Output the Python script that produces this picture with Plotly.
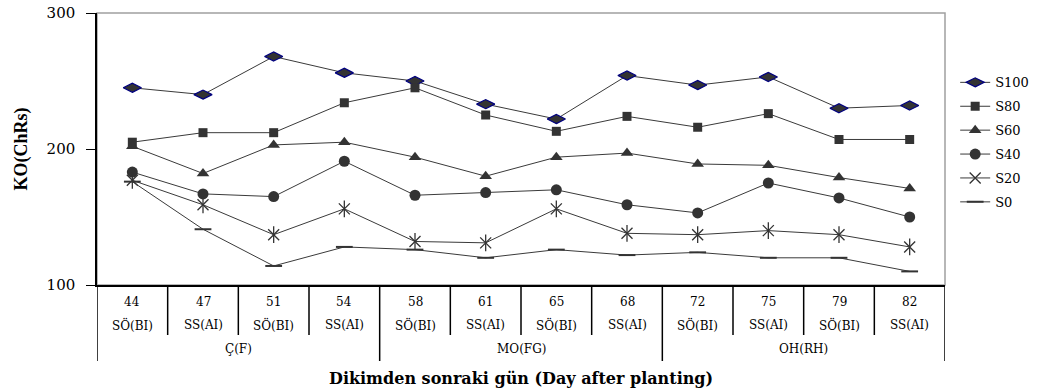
import plotly.graph_objects as go

# Days after planting, irrigation timing and growth stage for each sampling
days = ["44", "47", "51", "54", "58", "61", "65", "68", "72", "75", "79", "82"]
timing = ["SÖ(BI)", "SS(AI)"] * 6
stages = ["Ç(F)", "MO(FG)", "OH(RH)"]

# KO (ChRs) readings per irrigation level
s100 = [245, 240, 268, 256, 250, 233, 222, 254, 247, 253, 230, 232]
s80 = [205, 212, 212, 234, 245, 225, 213, 224, 216, 226, 207, 207]
s60 = [202, 182, 203, 205, 194, 180, 194, 197, 189, 188, 179, 171]
s40 = [183, 167, 165, 191, 166, 168, 170, 159, 153, 175, 164, 150]
s20 = [177, 159, 137, 156, 132, 131, 156, 138, 137, 140, 137, 128]
s0 = [176, 141, 114, 128, 126, 120, 126, 122, 124, 120, 120, 110]

series_names = ["S100", "S80", "S60", "S40", "S20", "S0"]
series_vals = [s100, s80, s60, s40, s20, s0]

# plot-area geometry in pixels (used to place the category rows under the axis)
TOP, BOTTOM = 13, 285
H = BOTTOM - TOP


def py(p):
    return (BOTTOM - p) / H


LINE_COLOR = "#3a3a3a"
FILL = "#333333"
TXT = "DejaVu Serif"

marker_styles = {
    "S100": dict(symbol="diamond-wide", size=13, color=FILL, line=dict(color="#000080", width=1.2)),
    "S80": dict(symbol="square", size=9, color=FILL, line=dict(width=0)),
    "S60": dict(symbol="triangle-up", size=11, color=FILL, line=dict(width=0)),
    "S40": dict(symbol="circle", size=11, color=FILL, line=dict(width=0)),
    "S20": dict(symbol="x-thin-open", size=11, color=FILL, line=dict(color=FILL, width=1.3)),
    "S0": dict(symbol="line-ew-open", size=12, color=FILL, line=dict(color=FILL, width=2)),
}

xs = list(range(len(days)))
fig = go.Figure()
for i, (name, vals) in enumerate(zip(series_names, series_vals)):
    fig.add_trace(go.Scatter(
        x=xs, y=vals, name=name, mode="lines+markers",
        line=dict(color=LINE_COLOR, width=1),
        marker=marker_styles[name],
        legendgroup=name,
    ))
    if name == "S20":
        # vertical arm of the star marker
        fig.add_trace(go.Scatter(
            x=xs, y=vals, mode="markers", showlegend=False, hoverinfo="skip",
            marker=dict(symbol="line-ns-open", size=12, color=FILL,
                        line=dict(color=FILL, width=1.3)),
            legendgroup=name,
        ))

shapes = []
# gray frame on top and right of the plot area
shapes.append(dict(type="rect", xref="paper", yref="paper", x0=0, x1=1, y0=0, y1=1,
                   line=dict(color="#a0a0a0", width=1.5), layer="below"))
# category dividers below the axis
for k in range(len(days) + 1):
    xpos = k - 0.5
    major = k % 4 == 0
    bottom = 361 if major else 335
    shapes.append(dict(type="line", xref="x", yref="paper", x0=xpos, x1=xpos,
                       y0=0, y1=py(bottom), line=dict(color="black", width=1.5)))

annotations = []
for k in xs:
    annotations.append(dict(x=k, y=py(302), xref="x", yref="paper", text=days[k],
                            showarrow=False, yanchor="middle",
                            font=dict(family=TXT, size=12, color="black")))
    annotations.append(dict(x=k, y=py(325), xref="x", yref="paper", text=timing[k],
                            showarrow=False, yanchor="middle",
                            font=dict(family=TXT, size=12, color="black")))
for g, name in enumerate(stages):
    annotations.append(dict(x=g * 4 + 1.5, y=py(349), xref="x", yref="paper", text=name,
                            showarrow=False, yanchor="middle",
                            font=dict(family=TXT, size=12, color="black")))
annotations.append(dict(x=0.5, y=py(378), xref="paper", yref="paper",
                        text="<b>Dikimden sonraki gün (Day after planting)</b>",
                        showarrow=False, yanchor="middle",
                        font=dict(family="DejaVu Serif", size=16, color="black")))

fig.update_layout(
    width=1057, height=392,
    margin=dict(l=97, r=112, t=TOP, b=392 - BOTTOM),
    paper_bgcolor="white", plot_bgcolor="white",
    showlegend=True,
    legend=dict(x=1.012, xanchor="left", y=0.8, yanchor="top",
                font=dict(family=TXT, size=13, color="black"),
                tracegroupgap=4, traceorder="grouped", bgcolor="rgba(0,0,0,0)"),
    shapes=shapes,
    annotations=annotations,
)
fig.update_xaxes(range=[-0.5, len(days) - 0.5], showticklabels=False, ticks="",
                 showgrid=False, zeroline=False, showline=True, automargin=False,
                 linecolor="black", linewidth=1.5)
fig.update_yaxes(range=[100, 300], tickvals=[100, 200, 300], ticks="outside",
                 ticklen=9, tickcolor="black", tickwidth=1, showgrid=False,
                 zeroline=False, showline=True, linecolor="black", linewidth=1.5,
                 automargin=False, ticklabelstandoff=8,
                 tickfont=dict(family=TXT, size=15, color="black"),
                 title=dict(text="<b>KO(ChRs)</b>", standoff=14,
                            font=dict(family="Liberation Serif", size=18, color="black")))

fig.write_html("out.html")
